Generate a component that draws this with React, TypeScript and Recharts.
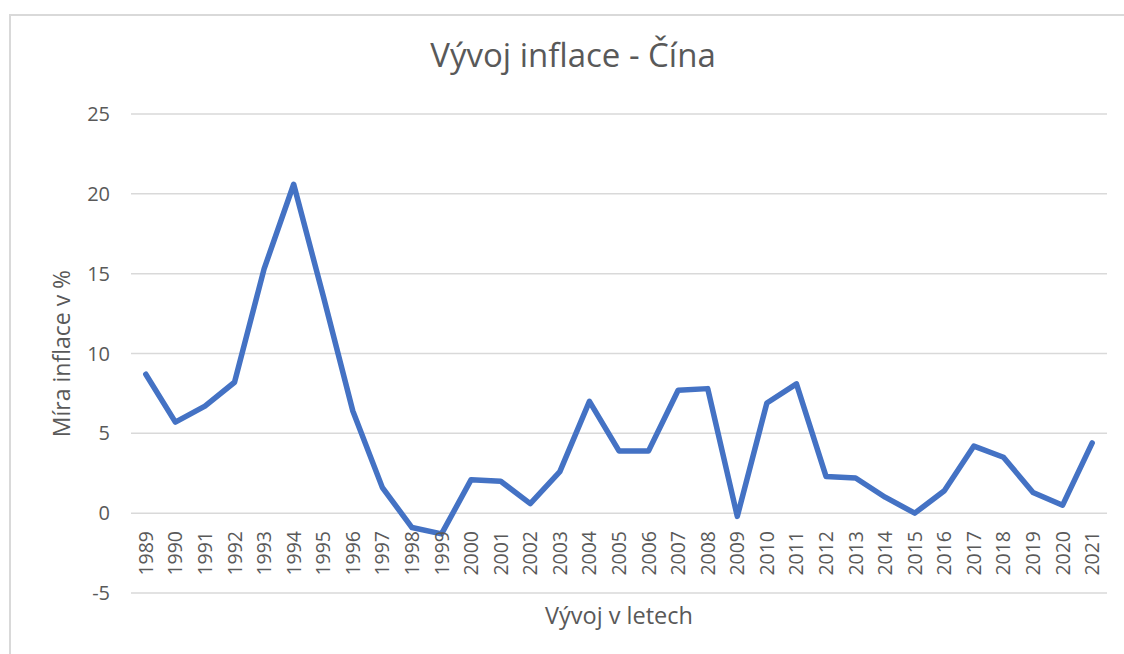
import React from "react";
import { LineChart, Line, XAxis, YAxis, CartesianGrid, Label } from "recharts";

const years: string[] = [
  "1989", "1990", "1991", "1992", "1993", "1994", "1995", "1996", "1997", "1998", "1999",
  "2000", "2001", "2002", "2003", "2004", "2005", "2006", "2007", "2008", "2009", "2010",
  "2011", "2012", "2013", "2014", "2015", "2016", "2017", "2018", "2019", "2020", "2021",
];
const inflation: number[] = [
  8.7, 5.7, 6.7, 8.2, 15.3, 20.6, 13.6, 6.4, 1.6, -0.9, -1.3,
  2.1, 2.0, 0.6, 2.6, 7.0, 3.9, 3.9, 7.7, 7.8, -0.2, 6.9,
  8.1, 2.3, 2.2, 1.0, 0.0, 1.4, 4.2, 3.5, 1.3, 0.5, 4.4,
];
const yTicks: number[] = [-5, 0, 5, 10, 15, 20, 25];

const title = "Vývoj inflace - Čína";
const xTitle = "Vývoj v letech";
const yTitle = "Míra inflace v %";

const data = years.map((y, i) => ({ year: y, value: inflation[i] }));

const FONT = "'Open Sans', sans-serif";
const GRAY = "#595959";

const XTick = (props: any) => {
  const { x, y, payload } = props;
  return (
    <text
      x={x}
      y={y - 62}
      transform={`rotate(-90, ${x}, ${y - 62})`}
      textAnchor="end"
      dy="0.36em"
      fill={GRAY}
      fontSize={19.5}
      fontFamily={FONT}
    >
      {payload.value}
    </text>
  );
};

export default function App() {
  return (
    <div style={{ position: "absolute", left: 0, top: 0, width: 1124, height: 654, background: "#fff", overflow: "hidden" }}>
      <div
        style={{
          position: "absolute",
          left: 9,
          top: 14,
          width: 1115,
          height: 640,
          boxSizing: "border-box",
          borderTop: "2px solid #d9d9d9",
          borderLeft: "2px solid #d9d9d9",
        }}
      />
      <div
        style={{
          position: "absolute",
          left: 0,
          width: 1146,
          top: 35,
          textAlign: "center",
          fontFamily: FONT,
          fontSize: 33,
          color: GRAY,
          lineHeight: "40px",
          whiteSpace: "nowrap",
        }}
      >
        {title}
      </div>
      <div style={{ position: "absolute", left: 0, top: 0 }}>
        <LineChart
          width={1124}
          height={654}
          data={data}
          margin={{ top: 114, right: 17, bottom: 0, left: 0 }}
        >
          <CartesianGrid vertical={false} stroke="#d9d9d9" strokeWidth={1.5} />
          <XAxis
            dataKey="year"
            interval={0}
            axisLine={false}
            tickLine={false}
            tickSize={0}
            tickMargin={0}
            height={61}
            padding={{ left: 14.8, right: 14.8 }}
            tick={<XTick />}
          >
            <Label
              value={xTitle}
              position="center"
              dy={-8}
              fill={GRAY}
              fontSize={23.5}
              fontFamily={FONT}
            />
          </XAxis>
          <YAxis
            domain={[-5, 25]}
            ticks={yTicks}
            interval={0}
            width={131}
            axisLine={false}
            tickLine={false}
            tickMargin={15}
            tick={{ fill: GRAY, fontSize: 20, fontFamily: FONT }}
          >
            <Label
              value={yTitle}
              angle={-90}
              position="center"
              dx={-4}
              fill={GRAY}
              fontSize={23}
              fontFamily={FONT}
            />
          </YAxis>
          <Line
            type="linear"
            dataKey="value"
            stroke="#4472C4"
            strokeWidth={5.5}
            strokeLinejoin="round"
            strokeLinecap="round"
            dot={false}
            isAnimationActive={false}
          />
        </LineChart>
      </div>
    </div>
  );
}
